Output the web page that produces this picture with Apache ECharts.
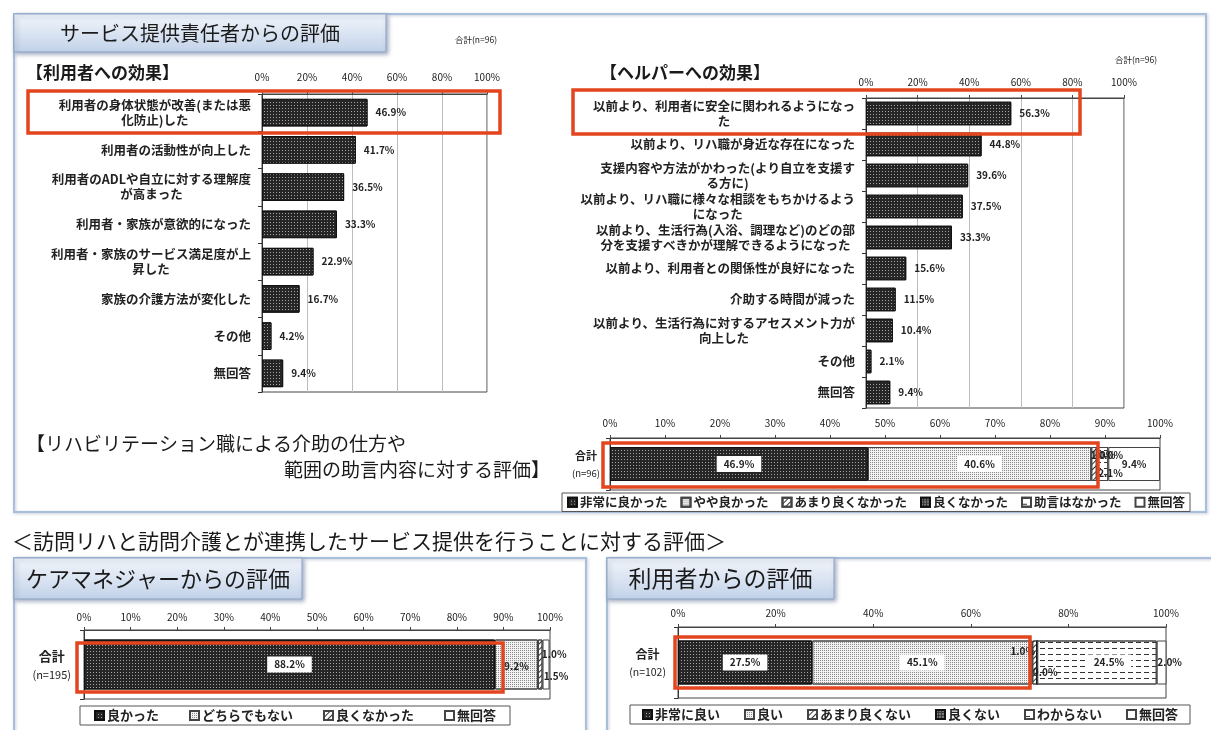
<!DOCTYPE html>
<html>
<head>
<meta charset="utf-8">
<script src="https://cdn.jsdelivr.net/npm/echarts@6/dist/echarts.min.js"></script>
<style>
  html, body { margin: 0; padding: 0; background: #fff; }
  #c { width: 1211px; height: 730px; }
</style>
</head>
<body>
<div id="c"></div>
<script>
const FONT = '"Noto Sans CJK JP", "Noto Sans", sans-serif';

// 【利用者への効果】 合計(n=96)
const userEffectCats = [
  '利用者の身体状態が改善(または悪\n化防止)した',
  '利用者の活動性が向上した',
  '利用者のADLや自立に対する理解度\nが高まった',
  '利用者・家族が意欲的になった',
  '利用者・家族のサービス満足度が上\n昇した',
  '家族の介護方法が変化した',
  'その他',
  '無回答'
];
const userEffectVals = [46.9, 41.7, 36.5, 33.3, 22.9, 16.7, 4.2, 9.4];

// 【ヘルパーへの効果】 合計(n=96)
const helperEffectCats = [
  '以前より、利用者に安全に関われるようになっ\nた',
  '以前より、リハ職が身近な存在になった',
  '支援内容や方法がかわった(より自立を支援す\nる方に)',
  '以前より、リハ職に様々な相談をもちかけるよう\nになった',
  '以前より、生活行為(入浴、調理など)のどの部\n分を支援すべきかが理解できるようになった',
  '以前より、利用者との関係性が良好になった',
  '介助する時間が減った',
  '以前より、生活行為に対するアセスメント力が\n向上した',
  'その他',
  '無回答'
];
const helperEffectVals = [56.3, 44.8, 39.6, 37.5, 33.3, 15.6, 11.5, 10.4, 2.1, 9.4];

// 【リハビリテーション職による介助の仕方や範囲の助言内容に対する評価】
const rehabAdviceRow = ['合計\n(n=96)'];
const rehabAdviceCats = ['非常に良かった', 'やや良かった', 'あまり良くなかった', '良くなかった', '助言はなかった', '無回答'];
const rehabAdviceVals = [46.9, 40.6, 1.0, 0.0, 2.1, 9.4];

// ケアマネジャーからの評価
const careMgrRow = ['合計\n(n=195)'];
const careMgrCats = ['良かった', 'どちらでもない', '良くなかった', '無回答'];
const careMgrVals = [88.2, 9.2, 1.0, 1.5];

// 利用者からの評価
const userEvalRow = ['合計\n(n=102)'];
const userEvalCats = ['非常に良い', '良い', 'あまり良くない', '良くない', 'わからない', '無回答'];
const userEvalVals = [27.5, 45.1, 1.0, 0.0, 24.5, 2.0];

// percent axes: 0–100 with 20 or 10 steps
const pctAxisMax = 100;
const pctStepWide = 20;
const pctStepFine = 10;

const pct = v => v.toFixed(1) + '%';

// fill patterns
const darkDecal  = { symbol: 'rect', symbolSize: 1, dashArrayX: [1, 2], dashArrayY: [1, 2], color: '#a3a3a3' };
const dotDecal   = { symbol: 'rect', symbolSize: 1, dashArrayX: [1, 1], dashArrayY: [1, 1], color: '#8a8a8a' };
const hatchDecal = { symbol: 'rect', symbolSize: 1, dashArrayX: [1, 0], dashArrayY: [1, 3], rotation: -Math.PI / 4, color: '#333' };
const dashDecal  = { symbol: 'rect', symbolSize: 1, dashArrayX: [5, 3], dashArrayY: [1, 5], color: '#333' };
const checkDecal = { symbol: 'rect', symbolSize: 1, dashArrayX: [2, 1], dashArrayY: [2, 1], color: '#777' };

const S = {
  dark:  { color: '#262626', borderColor: '#111', borderWidth: 1, decal: darkDecal },
  dots:  { color: '#f2f2f2', borderColor: '#444', borderWidth: 1, decal: dotDecal },
  hatch: { color: '#ffffff', borderColor: '#444', borderWidth: 1, decal: hatchDecal },
  check: { color: '#3a3a3a', borderColor: '#111', borderWidth: 1, decal: checkDecal },
  dash:  { color: '#ffffff', borderColor: '#444', borderWidth: 1, decal: dashDecal },
  blank: { color: '#ffffff', borderColor: '#444', borderWidth: 1 }
};

// multi-line labels: block right-aligned, lines centred inside it
function centred(text) {
  return text.split('\n').map(s => '{c|' + s + '}').join('\n');
}
function totalLabel(text) {
  const [a, b] = text.split('\n');
  return '{t|' + a + '}\n{n|' + b + '}';
}

function catLabel(fontSize) {
  return {
    formatter: centred, margin: 11, color: '#1e1e1e', fontFamily: FONT,
    rich: { c: { align: 'center', fontSize, lineHeight: fontSize + 2.5, color: '#222', fontFamily: FONT, fontWeight: 'bold' } }
  };
}
function totalAxisLabel(big, small, margin) {
  return {
    formatter: totalLabel, margin, fontFamily: FONT,
    rich: {
      t: { align: 'center', fontSize: big, lineHeight: big + 8, color: '#222', fontFamily: FONT, fontWeight: 'bold' },
      n: { align: 'center', fontSize: small, lineHeight: small + 6, color: '#222', fontFamily: FONT }
    }
  };
}
function pctAxis(gridIndex, step, margin, withSplit) {
  return {
    gridIndex, type: 'value', position: 'top', min: 0, max: pctAxisMax, interval: step,
    axisLabel: { formatter: '{value}%', fontSize: 10, color: '#222', margin, fontFamily: FONT },
    axisLine: { show: true, lineStyle: { color: '#444' } },
    axisTick: { show: true, length: 3, lineStyle: { color: '#444' } },
    splitLine: { show: withSplit, lineStyle: { color: '#bdbdbd' } }
  };
}
function catAxis(gridIndex, data, label, inverse) {
  return {
    gridIndex, type: 'category', data, inverse,
    axisLine: { show: true, lineStyle: { color: '#333' } },
    axisTick: { show: true, length: 4, lineStyle: { color: '#333' } },
    axisLabel: label
  };
}

// stacked single-row bars
function stacked(prefix, cats, vals, axis, barWidth, styles, labels) {
  return cats.map((c, i) => {
    const lb = labels[i] || {};
    const s = {
      type: 'bar', name: prefix + c, stack: prefix, xAxisIndex: axis, yAxisIndex: axis,
      data: [vals[i]], barWidth, silent: true, itemStyle: styles[i],
      label: {
        show: true, position: 'inside', formatter: p => pct(p.value),
        fontSize: lb.size || 10, color: '#222', fontFamily: FONT, fontWeight: 'bold',
        backgroundColor: lb.bg ? '#fff' : 'transparent', padding: lb.bg ? [3, 7] : 0
      }
    };
    if (lb.dx || lb.dy) {
      s.labelLayout = { dx: lb.dx || 0, dy: lb.dy || 0 };
      s.labelLine = { show: !!lb.line, lineStyle: { color: '#333', width: 1 } };
    }
    return s;
  });
}

const stripPrefix = name => name.slice(name.indexOf(':') + 1);

function legendBox(prefix, cats, left, top, fontSize, gap, padH) {
  return {
    left, top, orient: 'horizontal', data: cats.map(c => prefix + c),
    formatter: stripPrefix, icon: 'rect', itemWidth: 9, itemHeight: 9, itemGap: gap,
    textStyle: { fontSize, color: '#222', fontFamily: FONT, fontWeight: 'bold', padding: [0, 0, 0, -2] },
    borderColor: '#555', borderWidth: 1, padding: [3, padH], selectedMode: false
  };
}

const panelStroke = '#a9bedb';
const bannerFill = () => new echarts.graphic.LinearGradient(0, 0, 0, 1, [
  { offset: 0, color: '#f3f6fb' }, { offset: 1, color: '#c2d2e9' }
]);
const RED = '#e3461e';

function panel(x, y, w, h) {
  return { type: 'rect', z: 0, shape: { x, y, width: w, height: h },
    style: { fill: 'none', stroke: panelStroke, lineWidth: 2, shadowBlur: 3, shadowColor: 'rgba(80,100,140,0.35)', shadowOffsetX: 1, shadowOffsetY: 1 } };
}
function banner(x, y, w, h, text, size) {
  return [
    { type: 'rect', z: 1, shape: { x, y, width: w, height: h },
      style: { fill: bannerFill(), stroke: '#8ea6c8', lineWidth: 1, shadowBlur: 4, shadowColor: 'rgba(60,80,120,0.45)', shadowOffsetX: 2, shadowOffsetY: 2 } },
    { type: 'text', z: 2, x: x + w / 2, y: y + h / 2,
      style: { text, fontSize: size, fontFamily: FONT, fill: '#1a1a1a', align: 'center', verticalAlign: 'middle' } }
  ];
}
function redBox(x1, y1, x2, y2) {
  return { type: 'rect', z: 100, shape: { x: x1, y: y1, width: x2 - x1, height: y2 - y1 },
    style: { fill: 'none', stroke: RED, lineWidth: 3.5 } };
}
function txt(x, y, text, size, opts) {
  return { type: 'text', z: 5, x, y,
    style: Object.assign({ text, fontSize: size, fontFamily: FONT, fill: '#1a1a1a', align: 'left', verticalAlign: 'middle' }, opts || {}) };
}

const option = {
  animation: false,
  backgroundColor: '#ffffff',
  textStyle: { fontFamily: FONT },
  grid: [
    { left: 262, top: 94, width: 225, height: 298, show: true, borderColor: '#444', borderWidth: 1, containLabel: false },
    { left: 866, top: 98, width: 258, height: 310, show: true, borderColor: '#444', borderWidth: 1, containLabel: false },
    { left: 610, top: 438, width: 550, height: 52, show: true, borderColor: '#444', borderWidth: 1, containLabel: false },
    { left: 84, top: 630, width: 466, height: 69, show: true, borderColor: '#444', borderWidth: 1, containLabel: false },
    { left: 678, top: 627, width: 488, height: 71, show: true, borderColor: '#444', borderWidth: 1, containLabel: false }
  ],
  xAxis: [
    pctAxis(0, pctStepWide, 12, true),
    pctAxis(1, pctStepWide, 11, true),
    pctAxis(2, pctStepFine, 10, false),
    pctAxis(3, pctStepFine, 8, false),
    pctAxis(4, pctStepWide, 9, false)
  ],
  yAxis: [
    catAxis(0, userEffectCats, catLabel(12.5), true),
    catAxis(1, helperEffectCats, catLabel(12.5), true),
    catAxis(2, rehabAdviceRow, totalAxisLabel(11, 9.5, 10), false),
    catAxis(3, careMgrRow, totalAxisLabel(13, 11, 13), false),
    catAxis(4, userEvalRow, totalAxisLabel(12, 10.5, 12), false)
  ],
  legend: [
    legendBox('ra:', rehabAdviceCats, 562, 493, 12.5, 13, 5),
    legendBox('cm:', careMgrCats, 80, 706, 13, 30, 14),
    legendBox('ue:', userEvalCats, 630, 705, 13, 24, 12)
  ],
  series: [
    {
      type: 'bar', xAxisIndex: 0, yAxisIndex: 0, data: userEffectVals, barCategoryGap: '26%', silent: true,
      itemStyle: S.dark,
      label: { show: true, position: 'right', distance: 8, formatter: p => pct(p.value), fontSize: 10, color: '#222', fontFamily: FONT, fontWeight: 'bold' }
    },
    {
      type: 'bar', xAxisIndex: 1, yAxisIndex: 1, data: helperEffectVals, barCategoryGap: '24%', silent: true,
      itemStyle: S.dark,
      label: { show: true, position: 'right', distance: 8, formatter: p => pct(p.value), fontSize: 10, color: '#222', fontFamily: FONT, fontWeight: 'bold' }
    },
    ...stacked('ra:', rehabAdviceCats, rehabAdviceVals, 2, 34,
      [S.dark, S.dots, S.hatch, S.check, S.dash, S.blank],
      [{ bg: true }, { bg: true }, { dx: 9, dy: -9 }, { dx: 14, dy: -9, line: true }, { dx: 8, dy: 9 }, {}]),
    ...stacked('cm:', careMgrCats, careMgrVals, 3, 50,
      [S.dark, S.dots, S.hatch, S.blank],
      [{ bg: true }, { dy: 2 }, { dx: 14, dy: -10, line: true }, { dx: 10, dy: 12, line: true }]),
    ...stacked('ue:', userEvalCats, userEvalVals, 4, 44,
      [S.dark, S.dots, S.hatch, S.check, S.dash, S.blank],
      [{ bg: true }, { bg: true }, { dx: -12, dy: -11 }, { dx: 8, dy: 10 }, { dx: 12, bg: true }, { dx: 8 }])
  ],
  graphic: {
    elements: [
      panel(14, 14, 1192, 498),
      ...banner(14, 14, 372, 38, 'サービス提供責任者からの評価', 20),
      txt(455, 40, '合計(n=96)', 8.5),
      txt(1115, 60, '合計(n=96)', 8.5),
      txt(26, 73, '【利用者への効果】', 17, { fontWeight: 'bold' }),
      txt(600, 73, '【ヘルパーへの効果】', 17, { fontWeight: 'bold' }),
      txt(26, 444, '【リハビリテーション職による介助の仕方や', 19),
      txt(550, 470, '範囲の助言内容に対する評価】', 19, { align: 'right' }),
      txt(12, 541, '＜訪問リハと訪問介護とが連携したサービス提供を行うことに対する評価＞', 21),
      panel(14, 558, 572, 190),
      ...banner(14, 558, 288, 41, 'ケアマネジャーからの評価', 22),
      panel(607, 558, 620, 190),
      ...banner(607, 558, 227, 41, '利用者からの評価', 23),
      redBox(28, 91, 500, 133),
      redBox(573, 90, 1080, 134),
      redBox(603, 443, 1098, 487),
      redBox(77, 643, 503, 692),
      redBox(675, 637, 1030, 688)
    ]
  }
};

const chart = echarts.init(document.getElementById('c'), null, { renderer: 'canvas' });
chart.setOption(option);
</script>
</body>
</html>
